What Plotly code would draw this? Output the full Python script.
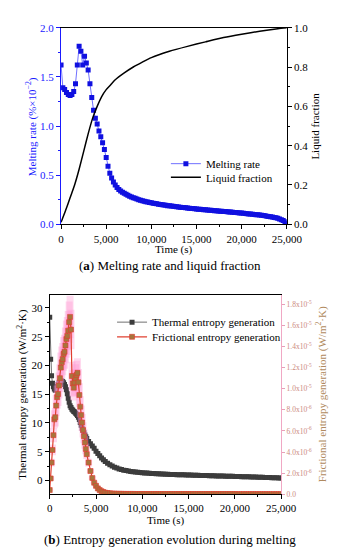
import numpy as np
import plotly.graph_objects as go

# ---------------- (a) data ----------------
rate_dt = 200  # s between melting-rate samples
melting_rate = [
    1.62, 1.39, 1.37, 1.34, 1.32, 1.31, 1.32, 1.35, 1.43, 1.62,
    1.81, 1.76, 1.62, 1.71, 1.64, 1.57, 1.43, 1.29, 1.16, 1.08,
    1.02, 0.95, 0.89, 0.83, 0.76, 0.68, 0.59, 0.52, 0.47, 0.43,
    0.40, 0.375, 0.355, 0.34, 0.325, 0.315, 0.305, 0.295, 0.286, 0.278,
    0.271, 0.264, 0.257, 0.251, 0.245, 0.240, 0.235, 0.230, 0.226, 0.222,
    0.218, 0.214, 0.211, 0.208, 0.205, 0.202, 0.199, 0.196, 0.193, 0.190,
    0.188, 0.185, 0.183, 0.180, 0.178, 0.176, 0.174, 0.172, 0.170, 0.168,
    0.166, 0.164, 0.162, 0.160, 0.158, 0.156, 0.154, 0.153, 0.151, 0.149,
    0.147, 0.146, 0.144, 0.142, 0.140, 0.139, 0.137, 0.135, 0.134, 0.132,
    0.130, 0.129, 0.127, 0.125, 0.124, 0.122, 0.120, 0.119, 0.117, 0.115,
    0.114, 0.112, 0.110, 0.108, 0.106, 0.104, 0.102, 0.100, 0.098, 0.096,
    0.094, 0.091, 0.089, 0.086, 0.083, 0.080, 0.077, 0.074, 0.070, 0.066,
    0.061, 0.055, 0.047, 0.038, 0.025, 0.008,
]
rate_time = [i * rate_dt for i in range(len(melting_rate))]

lf_time = [0, 500, 1000, 1500, 2000, 2500, 3000, 3500, 4000, 4500, 5000, 5500,
           6000, 7000, 8000, 9000, 10000, 12000, 14000, 16000, 18000, 20000,
           22000, 24000, 25000]
liquid_fraction = [0.01, 0.07, 0.135, 0.20, 0.28, 0.37, 0.46, 0.54, 0.60, 0.65,
                   0.685, 0.71, 0.735, 0.77, 0.80, 0.825, 0.848, 0.88, 0.905,
                   0.928, 0.95, 0.967, 0.982, 0.995, 1.0]

# ---------------- (b) data ----------------
ent_time = (list(range(0, 4001, 100)) + list(range(4200, 6001, 200))
            + list(range(6250, 25001, 250)))
thermal_entropy = [
    28.4, 21.1, 18.2, 16.9, 16.3, 15.9, 15.7, 15.9, 16.3, 16.7,
    17.0, 17.2, 17.3, 17.3, 17.2, 17.0, 16.7, 16.3, 15.8, 15.1,
    14.3, 13.6, 13.0, 12.7, 12.4, 12.2, 12.0, 11.9, 11.7, 11.5,
    11.3, 11.0, 10.6, 10.1, 9.6, 9.1, 8.7, 8.3, 7.9, 7.6, 7.3,
    6.8, 6.4, 6.0, 5.6, 5.1, 4.7, 4.3, 3.9, 3.6, 3.3,
    3.0, 2.75, 2.5, 2.3, 2.15, 2.0, 1.9, 1.8, 1.72, 1.65,
    1.58, 1.52, 1.47, 1.42, 1.39, 1.36,
    1.32, 1.29, 1.26, 1.23, 1.20, 1.18, 1.15, 1.13, 1.11, 1.09,
    1.07, 1.05, 1.035, 1.02, 1.01, 1.00, 0.99, 0.98, 0.965, 0.95,
    0.94, 0.93, 0.915, 0.90, 0.885, 0.87, 0.86, 0.85, 0.835, 0.82,
    0.81, 0.80, 0.79, 0.78, 0.765, 0.75, 0.74, 0.73, 0.72, 0.71,
    0.695, 0.68, 0.67, 0.66, 0.645, 0.63, 0.62, 0.61, 0.595, 0.58,
    0.565, 0.55, 0.535, 0.52, 0.505, 0.49, 0.475, 0.46, 0.44, 0.42,
]
frictional_entropy = [  # in units of 1e-6 W/m2K
    0.4, 1.5, 3.0, 4.2, 5.6, 7.1, 7.3, 8.4, 9.2, 9.5,
    10.3, 11.0, 12.0, 12.5, 12.8, 13.3, 13.5, 14.1, 14.7, 15.0,
    15.5, 16.3, 16.8, 15.6, 11.2, 10.5, 10.1, 10.6, 11.0, 11.3,
    11.5, 10.6, 9.4, 8.3, 7.5, 6.8, 6.1, 5.5, 4.9, 4.3, 3.8,
    3.0, 2.2, 1.55, 1.1, 0.8, 0.56, 0.40, 0.29, 0.21, 0.15,
    0.12, 0.09, 0.07, 0.06, 0.05, 0.045, 0.04, 0.035, 0.03, 0.03,
    0.03, 0.03, 0.025, 0.025, 0.025, 0.025,
    0.025, 0.025, 0.02, 0.02, 0.02, 0.02, 0.02, 0.02, 0.02, 0.02,
    0.02, 0.02, 0.02, 0.02, 0.02, 0.02, 0.02, 0.02, 0.02, 0.02,
    0.02, 0.02, 0.02, 0.02, 0.02, 0.02, 0.02, 0.02, 0.02, 0.02,
    0.02, 0.02, 0.02, 0.02, 0.02, 0.02, 0.02, 0.02, 0.02, 0.02,
    0.015, 0.015, 0.015, 0.015, 0.015, 0.015, 0.015, 0.015, 0.015, 0.015,
    0.015, 0.015, 0.015, 0.015, 0.01, 0.01, 0.01, 0.01, 0.01, 0.01,
]
frictional_scale = 1e-6

right_b_ticks = [0, 2e-6, 4e-6, 6e-6, 8e-6, 1.0e-5, 1.2e-5, 1.4e-5, 1.6e-5, 1.8e-5]
right_b_text = ["0.0", "2.0x10<sup>-6</sup>", "4.0x10<sup>-6</sup>", "6.0x10<sup>-6</sup>",
                "8.0x10<sup>-6</sup>", "1.0x10<sup>-5</sup>", "1.2x10<sup>-5</sup>",
                "1.4x10<sup>-5</sup>", "1.6x10<sup>-5</sup>", "1.8x10<sup>-5</sup>"]

W, H = 342, 550
FONT = "Liberation Serif"
BLUE = "#1a1aff"


def px(x):
    return x / W


def py(y):
    return 1 - y / H


fig = go.Figure()

# (a)
fig.add_trace(go.Scatter(
    x=rate_time, y=melting_rate, name="Melting rate", mode="lines+markers",
    line=dict(color="#7070ff", width=1), marker=dict(symbol="square", size=5, color="#1010e0"),
    xaxis="x", yaxis="y", legend="legend"))
fig.add_trace(go.Scatter(
    x=lf_time, y=liquid_fraction, name="Liquid fraction", mode="lines",
    line=dict(color="black", width=1.5, shape="spline", smoothing=0.6),
    xaxis="x", yaxis="y2", legend="legend2"))

# (b)
fig.add_trace(go.Scatter(
    x=ent_time, y=thermal_entropy, name="Thermal entropy generation", mode="lines+markers",
    line=dict(color="#707070", width=1), marker=dict(symbol="square", size=5, color="#3c3c3c"),
    xaxis="x2", yaxis="y3", legend="legend3"))
fig.add_trace(go.Scatter(
    x=ent_time, y=[v * frictional_scale for v in frictional_entropy],
    name="Frictional entropy generation", mode="lines+markers",
    line=dict(color="#e04030", width=1.2),
    marker=dict(symbol="square", size=5, color="#a8743c", line=dict(color="#e03a30", width=0.6)),
    error_y=dict(type="percent", value=12, color="rgba(255,150,210,0.35)", thickness=7, width=0),
    xaxis="x2", yaxis="y4", legend="legend4"))

tick_font = dict(family=FONT, size=11, color="black")
common_x = dict(range=[0, 25000], tickvals=[0, 5000, 10000, 15000, 20000, 25000],
                ticktext=["0", "5,000", "10,000", "15,000", "20,000", "25,000"],
                ticks="outside", ticklen=4, tickcolor="black", showline=True, linecolor="black",
                linewidth=1, mirror=True, showgrid=False, zeroline=False, tickfont=tick_font,
                minor=dict(tickvals=[2500, 7500, 12500, 17500, 22500], ticks="outside",
                           ticklen=2, tickcolor="black"))


def leg(x, y):
    return dict(x=px(x), y=py(y), xanchor="left", yanchor="middle", bgcolor="rgba(0,0,0,0)",
                font=dict(family=FONT, size=11), itemwidth=30, tracegroupgap=0,
                borderwidth=0)


fig.update_layout(
    width=W, height=H, margin=dict(l=0, r=0, t=0, b=0),
    paper_bgcolor="white", plot_bgcolor="white",
    font=dict(family=FONT, size=11, color="black"),
    xaxis=dict(domain=[px(53), px(292)], anchor="y", **common_x),
    yaxis=dict(domain=[py(215), py(14)], range=[0, 2.0], dtick=0.5, tickformat=".1f",
               ticks="outside", ticklen=4, tickcolor=BLUE, showline=True, linecolor=BLUE,
               linewidth=1, showgrid=False, zeroline=False,
               tickfont=dict(family=FONT, size=11, color=BLUE),
               minor=dict(dtick=0.25, ticks="outside", ticklen=2, tickcolor=BLUE)),
    yaxis2=dict(overlaying="y", side="right", anchor="x", range=[0, 1.0], dtick=0.2,
                tickformat=".1f", ticks="outside", ticklen=4, tickcolor="black",
                showline=True, linecolor="black", linewidth=1, showgrid=False, zeroline=False,
                tickfont=tick_font,
                minor=dict(dtick=0.1, ticks="outside", ticklen=2, tickcolor="black")),
    xaxis2=dict(domain=[px(41), px(286)], anchor="y3", **common_x),
    yaxis3=dict(domain=[py(491), py(287)], anchor="x2", range=[-2.4, 32.3], dtick=5,
                ticks="outside", ticklen=4, tickcolor="black", showline=True, linecolor="black",
                linewidth=1, showgrid=False, zeroline=False, tickfont=tick_font,
                minor=dict(dtick=2.5, ticks="outside", ticklen=2, tickcolor="black")),
    yaxis4=dict(overlaying="y3", side="right", anchor="x2", range=[0, 1.89e-5],
                tickvals=right_b_ticks, ticktext=right_b_text, ticks="outside", ticklen=3,
                tickcolor="#e8a0b8", showline=True, linecolor="#f0a8c4", linewidth=1,
                showgrid=False, zeroline=False,
                tickfont=dict(family=FONT, size=7.5, color="#cc8a80")),
    legend=leg(164, 153),
    legend2=leg(164, 167),
    legend3=leg(107, 315),
    legend4=leg(107, 330),
    showlegend=True,
)

ann = [
    dict(text="Melting rate (%×10<sup>−2</sup>)", x=px(22), y=py(115), textangle=-90,
         font=dict(family=FONT, size=11, color=BLUE)),
    dict(text="Liquid fraction", x=px(322), y=py(115), textangle=-90,
         font=dict(family=FONT, size=11, color="black")),
    dict(text="Time (s)", x=px(173), y=py(241), font=dict(family=FONT, size=11)),
    dict(text="(<b>a</b>) Melting rate and liquid fraction", x=px(168), y=py(257),
         font=dict(family=FONT, size=13)),
    dict(text="Thermal entropy generation (W/m<sup>2</sup>·K)", x=px(12), y=py(389),
         textangle=-90, font=dict(family=FONT, size=11, color="black")),
    dict(text="Frictional entropy generation (W/m<sup>2</sup>·K)", x=px(329), y=py(389),
         textangle=-90, font=dict(family=FONT, size=11, color="#b08a60")),
    dict(text="Time (s)", x=px(164), y=py(518), font=dict(family=FONT, size=11)),
    dict(text="(<b>b</b>) Entropy generation evolution during melting", x=px(168), y=py(537),
         font=dict(family=FONT, size=13)),
]
for a in ann:
    fig.add_annotation(xref="paper", yref="paper", showarrow=False, xanchor="center",
                       yanchor="middle", **a)

fig.write_html("out.html")
